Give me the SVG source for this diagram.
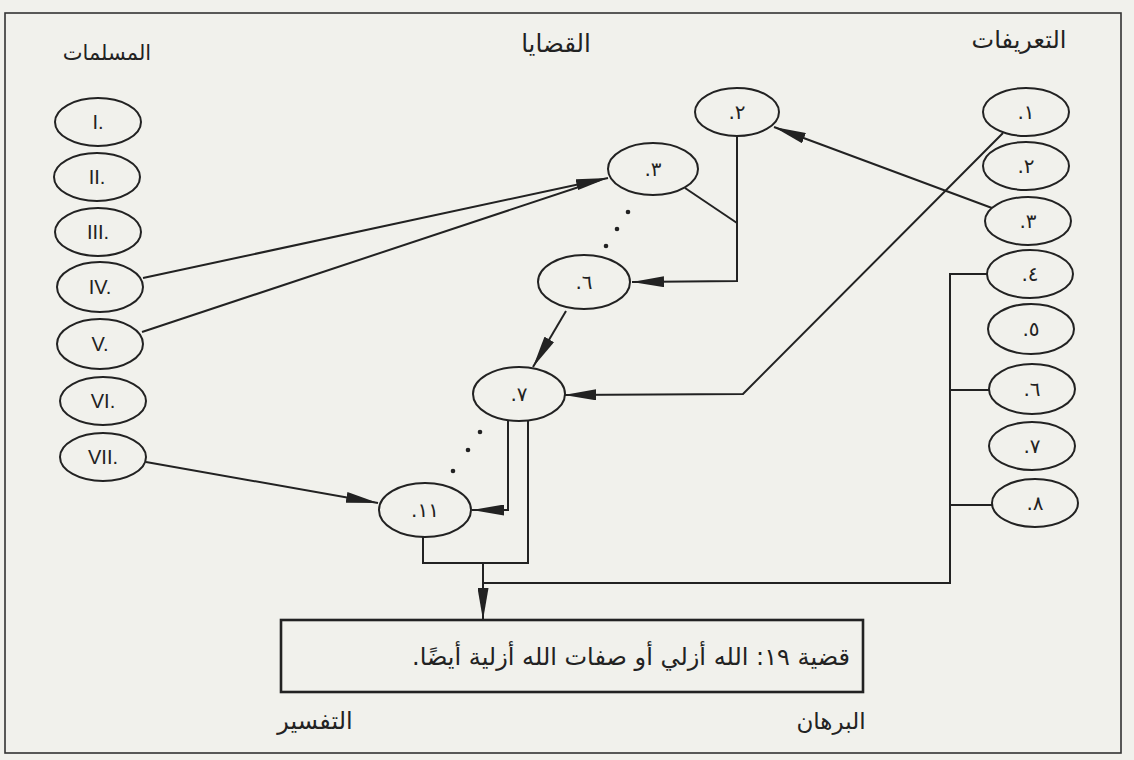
<svg xmlns="http://www.w3.org/2000/svg" width="1134" height="760" viewBox="0 0 1134 760">
<defs>
<style>
.bg{fill:#f1f1ec}
.frame{fill:none;stroke:#333;stroke-width:1.6}
.n ellipse{fill:none;stroke:#222;stroke-width:2}
.lat{font-family:"Liberation Sans","DejaVu Sans",sans-serif;font-size:20px;fill:#222;text-anchor:middle}
.ar{font-family:"DejaVu Sans","Noto Sans",sans-serif;font-size:20px;fill:#222;text-anchor:middle}
.hd{font-family:"DejaVu Sans","Noto Sans",sans-serif;font-size:22px;fill:#222;text-anchor:middle}
.c path,.c line,.c polyline{fill:none;stroke:#222;stroke-width:2}
.arw{marker-end:url(#ah)}
.dot{fill:#222}
.box{fill:none;stroke:#222;stroke-width:2.6}
</style>
<marker id="ah" viewBox="0 0 32 11" refX="32" refY="5.5" markerWidth="32" markerHeight="11" markerUnits="userSpaceOnUse" orient="auto">
<path d="M0,0 L32,5.5 L0,11 z" fill="#222"/>
</marker>
</defs>
<rect class="bg" x="0" y="0" width="1134" height="760"/>
<rect class="frame" x="5" y="13" width="1116" height="740"/>

<g id="headers">
<text class="hd" x="107" y="60" style="font-size:21px">المسلمات</text>
<text class="hd" x="556" y="52" style="font-size:24.5px">القضايا</text>
<text class="hd" x="1019" y="48" style="font-size:24px">التعريفات</text>
<text class="hd" x="315" y="729" style="font-size:24px">التفسير</text>
<text class="hd" x="831" y="729" style="font-size:23px">البرهان</text>
</g>

<g id="connectors" class="c">
<line class="arw" x1="143" y1="278" x2="608" y2="178"/>
<line x1="142" y1="332" x2="600" y2="180"/>
<line class="arw" x1="146" y1="462" x2="378" y2="503"/>
<line class="arw" x1="992" y1="208" x2="774" y2="127"/>
<polyline class="arw" points="1003,133 743,394 564,395"/>
<polyline class="arw" points="737,136 737,281 632,282"/>
<line x1="685" y1="188" x2="737" y2="223"/>
<line class="arw" x1="566" y1="311" x2="533" y2="367"/>
<polyline class="arw" points="508,420 508,510 472,510"/>
<polyline points="528,420 528,563 423,563 423,537"/>
<line class="arw" x1="483" y1="563" x2="483" y2="620"/>
<polyline points="988,274 950,274 950,583 483,583"/>
<line x1="950" y1="390" x2="989" y2="390"/>
<line x1="950" y1="505" x2="992" y2="505"/>
<circle class="dot" cx="628" cy="212" r="2.3" stroke="none"/>
<circle class="dot" cx="617" cy="229" r="2.3" stroke="none"/>
<circle class="dot" cx="606" cy="246" r="2.3" stroke="none"/>
<circle class="dot" cx="480" cy="432" r="2.3" stroke="none"/>
<circle class="dot" cx="468" cy="450" r="2.3" stroke="none"/>
<circle class="dot" cx="453" cy="471" r="2.3" stroke="none"/>
</g>

<g id="p1" class="n"><ellipse cx="98" cy="122" rx="43" ry="24"/><text class="lat" x="98" y="129">I.</text></g>
<g id="p2" class="n"><ellipse cx="97" cy="177" rx="43" ry="24"/><text class="lat" x="97" y="184">II.</text></g>
<g id="p3" class="n"><ellipse cx="98" cy="232" rx="43" ry="24"/><text class="lat" x="98" y="239">III.</text></g>
<g id="p4" class="n"><ellipse cx="100" cy="287" rx="43" ry="25"/><text class="lat" x="100" y="294">IV.</text></g>
<g id="p5" class="n"><ellipse cx="100" cy="344" rx="43" ry="25"/><text class="lat" x="100" y="351">V.</text></g>
<g id="p6" class="n"><ellipse cx="103" cy="401" rx="43" ry="24"/><text class="lat" x="103" y="408">VI.</text></g>
<g id="p7" class="n"><ellipse cx="103" cy="457" rx="43" ry="24"/><text class="lat" x="103" y="464">VII.</text></g>

<g id="d1" class="n"><ellipse cx="1026" cy="112" rx="43" ry="24"/><text class="ar" x="1026" y="119">.١</text></g>
<g id="d2" class="n"><ellipse cx="1026" cy="166" rx="43" ry="24"/><text class="ar" x="1026" y="173">.٢</text></g>
<g id="d3" class="n"><ellipse cx="1028" cy="221" rx="43" ry="24"/><text class="ar" x="1028" y="228">.٣</text></g>
<g id="d4" class="n"><ellipse cx="1030" cy="274" rx="43" ry="24"/><text class="ar" x="1030" y="281">.٤</text></g>
<g id="d5" class="n"><ellipse cx="1031" cy="329" rx="43" ry="25"/><text class="ar" x="1031" y="336">.٥</text></g>
<g id="d6" class="n"><ellipse cx="1032" cy="389" rx="43" ry="25"/><text class="ar" x="1032" y="396">.٦</text></g>
<g id="d7" class="n"><ellipse cx="1032" cy="446" rx="43" ry="24"/><text class="ar" x="1032" y="453">.٧</text></g>
<g id="d8" class="n"><ellipse cx="1035" cy="503" rx="43" ry="24"/><text class="ar" x="1035" y="510">.٨</text></g>

<g id="q2" class="n"><ellipse cx="737" cy="112" rx="42" ry="24"/><text class="ar" x="737" y="119">.٢</text></g>
<g id="q3" class="n"><ellipse cx="653" cy="169" rx="45" ry="26"/><text class="ar" x="653" y="176">.٣</text></g>
<g id="q6" class="n"><ellipse cx="584" cy="282" rx="46" ry="27"/><text class="ar" x="584" y="289">.٦</text></g>
<g id="q7" class="n"><ellipse cx="519" cy="394" rx="46" ry="27"/><text class="ar" x="519" y="401">.٧</text></g>
<g id="q11" class="n"><ellipse cx="425" cy="510" rx="46" ry="27"/><text class="ar" x="425" y="517">.١١</text></g>

<g id="conclusion">
<rect class="box" x="281" y="620" width="582" height="72"/>
<text class="hd" x="631" y="665" direction="rtl" style="text-anchor:middle;font-size:24px">قضية ١٩: الله أزلي أو صفات الله أزلية أيضًا.</text>
</g>
</svg>
